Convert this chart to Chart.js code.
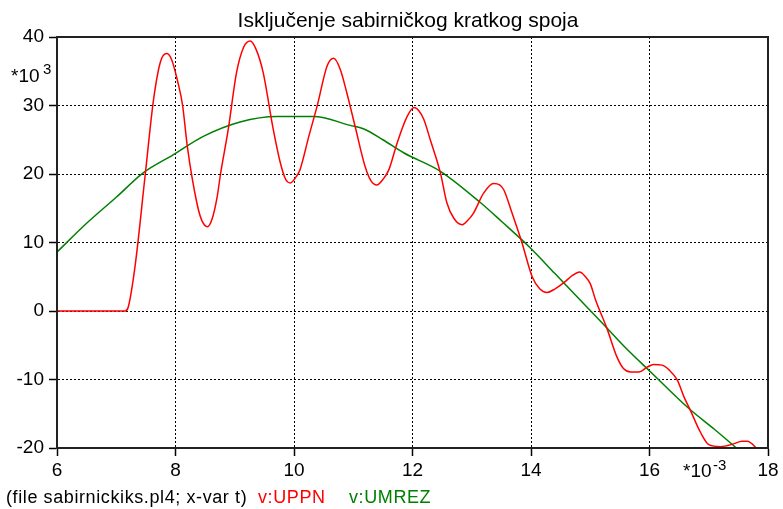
<!DOCTYPE html>
<html>
<head>
<meta charset="utf-8">
<script src="https://cdn.jsdelivr.net/npm/chart.js@4"></script>
<style>
    html, body { margin: 0; padding: 0; background: #fff; }
</style>
</head>
<body>
<canvas id="grafico" width="783" height="509"></canvas>
<script>
// vrijeme u ms (*10-3 s), napon u kV (*10^3 V)
const tUPPN = [6, 7.15, 7.2, 7.32, 7.49, 7.63, 7.75, 7.85, 7.93, 8.04, 8.12, 8.2, 8.36, 8.44, 8.54, 8.62, 8.7, 8.76, 8.89, 9.03, 9.15, 9.26, 9.36, 9.48, 9.65, 9.77, 9.86, 9.94, 10.02, 10.1, 10.25, 10.39, 10.56, 10.67, 10.78, 10.89, 11.03, 11.2, 11.3, 11.4, 11.5, 11.6, 11.74, 11.91, 12.03, 12.11, 12.19, 12.3, 12.47, 12.58, 12.7, 12.84, 12.93, 13.03, 13.2, 13.37, 13.47, 13.54, 13.68, 13.85, 14.02, 14.15, 14.27, 14.4, 14.55, 14.7, 14.82, 14.92, 15.0, 15.09, 15.28, 15.45, 15.56, 15.68, 15.82, 15.96, 16.07, 16.21, 16.33, 16.47, 16.58, 16.69, 16.86, 17.0, 17.2, 17.42, 17.56, 17.65, 17.84];
const vUPPN = [0, 0, 0.5, 6.7, 20, 30.9, 36.5, 37.6, 36.8, 33.4, 30, 24, 15.8, 13.3, 12.3, 13.5, 16.5, 20, 26.5, 34.8, 38.5, 39.4, 38.2, 34.8, 26.5, 21.6, 19.2, 18.7, 19.4, 20.6, 25.5, 29.9, 35.8, 36.9, 35.3, 31.9, 27, 21.1, 19, 18.4, 19.2, 20.6, 24.5, 28.4, 29.7, 29.2, 28, 25, 20.2, 15.8, 13.5, 12.6, 13.2, 14.3, 17.2, 18.6, 18.4, 17.7, 14.3, 9.9, 5, 3.2, 2.7, 3.2, 4.1, 5.2, 5.7, 5, 4, 1.6, -2.5, -6.7, -8.4, -8.9, -8.9, -8.2, -7.8, -7.9, -8.6, -10.1, -12.5, -14.5, -17.7, -19.5, -19.8, -19.4, -19.0, -19.0, -20.3];

const tUMREZ = [6, 6.5, 7, 7.46, 7.96, 8.47, 9.09, 9.71, 10.33, 10.95, 11.17, 11.5, 11.85, 12.47, 13.15, 13.5, 13.99, 14.4, 14.83, 15.23, 15.6, 16.02, 16.66, 17.1, 17.48];
const vUMREZ = [8.6, 12.8, 16.6, 20.2, 22.8, 25.5, 27.6, 28.4, 28.4, 27.1, 26.6, 25, 23.1, 20.4, 15.8, 13.1, 9.2, 5.5, 1.6, -2.0, -5.4, -8.9, -14.2, -17.3, -20.1];

const xTicks = [6, 8, 10, 12, 14, 16, 18];
const yTicks = [-20, -10, 0, 10, 20, 30, 40];

const naslov = 'Isključenje sabirničkog kratkog spoja';
const font = 'Liberation Sans, Arial, sans-serif';

function toPoints(xs, ys) {
    return xs.map((x, i) => ({ x: x, y: ys[i] }));
}

const extras = {
    id: 'extras',
    afterDraw(chart) {
        const ctx = chart.ctx;
        const a = chart.chartArea;
        ctx.save();
        // okvir
        ctx.strokeStyle = '#222';
        ctx.lineWidth = 2;
        ctx.strokeRect(a.left, a.top, a.right - a.left, a.bottom - a.top);

        ctx.fillStyle = '#000';
        ctx.textBaseline = 'alphabetic';
        ctx.textAlign = 'center';
        ctx.font = '21px ' + font;
        ctx.fillText(naslov, 408, 27);

        // mnozitelji
        ctx.textAlign = 'left';
        ctx.font = '19px ' + font;
        ctx.fillText('*10', 11, 82);
        ctx.fillText('*10', 683, 477);
        ctx.font = '15px ' + font;
        ctx.fillText('3', 43, 74);
        ctx.fillText('-3', 713, 470);

        // legenda
        ctx.font = '18px ' + font;
        ctx.letterSpacing = '0.6px';
        ctx.fillText('(file sabirnickiks.pl4; x-var t)', 6, 503);
        ctx.fillStyle = '#ff0000';
        ctx.fillText('v:UPPN', 258, 503);
        ctx.fillStyle = '#008000';
        ctx.fillText('v:UMREZ', 349, 503);
        ctx.restore();
    }
};

document.addEventListener('DOMContentLoaded', () => {
    const ctx = document.getElementById('grafico').getContext('2d');
    new Chart(ctx, {
        type: 'line',
        data: {
            datasets: [
                {
                    label: 'v:UPPN',
                    data: toPoints(tUPPN, vUPPN),
                    borderColor: '#ff0000',
                    borderWidth: 1.5,
                    pointRadius: 0,
                    cubicInterpolationMode: 'monotone',
                },
                {
                    label: 'v:UMREZ',
                    data: toPoints(tUMREZ, vUMREZ),
                    borderColor: '#008000',
                    borderWidth: 1.5,
                    pointRadius: 0,
                    cubicInterpolationMode: 'monotone',
                },
            ],
        },
        options: {
            responsive: false,
            animation: false,
            layout: { padding: { left: 0, right: 15, top: 37, bottom: 0 } },
            plugins: {
                legend: { display: false },
                title: { display: false },
                tooltip: { enabled: false },
            },
            scales: {
                x: {
                    type: 'linear',
                    min: 6,
                    max: 18,
                    afterBuildTicks: (scale) => { scale.ticks = xTicks.map(v => ({ value: v })); },
                    afterFit: (scale) => { scale.height = 61; },
                    ticks: { color: '#000', font: { family: font, size: 19 }, padding: 3, maxRotation: 0 },
                    grid: { color: '#000', lineWidth: 1, tickLength: 8, tickColor: '#000', tickWidth: 1.5, tickBorderDash: [] },
                    border: { display: true, color: '#000', width: 2, dash: [2, 2] },
                },
                y: {
                    min: -20,
                    max: 40,
                    afterBuildTicks: (scale) => { scale.ticks = yTicks.map(v => ({ value: v })); },
                    afterFit: (scale) => { scale.width = 57; },
                    ticks: { color: '#000', font: { family: font, size: 19 }, padding: 5 },
                    grid: { color: '#000', lineWidth: 1, tickLength: 8, tickColor: '#000', tickWidth: 1.5, tickBorderDash: [] },
                    border: { display: true, color: '#000', width: 2, dash: [2, 2] },
                },
            },
        },
        plugins: [extras],
    });
});
</script>
</body>
</html>
